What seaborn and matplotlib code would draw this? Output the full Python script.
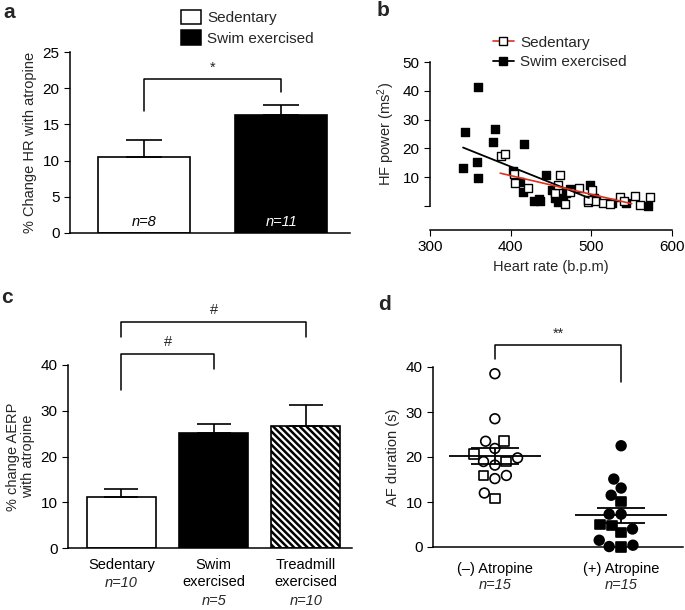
import numpy as np
import pandas as pd
import seaborn as sns
import matplotlib.pyplot as plt
from matplotlib.lines import Line2D
from matplotlib.patches import Patch
from matplotlib.markers import MarkerStyle

sns.set_style("ticks")
plt.rcParams["font.family"] = ["Liberation Sans", "DejaVu Sans"]
plt.rcParams["mathtext.fontset"] = "custom"
plt.rcParams["mathtext.rm"] = "Liberation Sans"
plt.rcParams["mathtext.it"] = "Liberation Sans:italic"
plt.rcParams["axes.linewidth"] = 1.1
plt.rcParams["hatch.linewidth"] = 1.8
plt.rcParams["xtick.color"] = "black"
plt.rcParams["ytick.color"] = "black"
plt.rcParams["axes.edgecolor"] = "black"

# --- a: HR change with atropine
a_groups = ["Sedentary", "Swim exercised"]
a_mean = [10.5, 16.3]
a_sem = [2.3, 1.4]
a_n = ["n=8", "n=11"]

# --- b: HF power vs heart rate
sed_hr = [388, 393, 404, 405, 422, 455, 461, 459, 467, 473, 485, 496, 501,
          515, 523, 535, 541, 554, 560, 573, 504, 496]
sed_hf = [17.4, 18.1, 11.0, 7.9, 6.4, 4.5, 10.8, 7.3, 0.7, 5.0, 6.2, 1.4, 5.6,
          1.2, 0.8, 3.1, 1.8, 3.3, 0.2, 3.1, 1.7, 2.2]
swim_hr = [360, 343, 341, 358, 360, 380, 378, 416, 403, 411, 415, 429, 435,
           436, 444, 451, 455, 459, 465, 469, 473, 498, 503, 506, 525, 543, 570]
swim_hf = [41.4, 25.6, 13.1, 15.2, 9.6, 26.8, 22.2, 21.4, 12.2, 8.2, 4.8, 1.6, 2.4,
           1.7, 10.6, 5.6, 2.7, 1.4, 2.7, 4.5, 5.8, 7.3, 2.9, 2.2, 1.2, 1.0, 0.1]
sed_fit_hr = [387, 550]
sed_fit_hf = [11.4, 0.8]
swim_fit_hr = [341, 497]
swim_fit_hf = [20.3, 2.8]

# --- c: AERP change with atropine
c_groups = ["Sedentary", "Swim\nexercised", "Treadmill\nexercised"]
c_mean = [11.2, 25.1, 26.7]
c_sem = [1.6, 2.1, 4.6]
c_n = ["n=10", "n=5", "n=10"]

# --- d: AF duration
d_groups = ["(\u2013) Atropine", "(+) Atropine"]
d_minus = [38.5, 28.5, 21.9, 23.5, 19.8, 18.2, 19.0, 15.2, 15.9, 12.0,
           23.6, 20.6, 19.0, 15.9, 10.8]
d_plus = [22.5, 15.1, 13.1, 11.5, 7.3, 7.3, 4.0, 0.4, 0.1, 1.5,
          10.1, 4.8, 5.0, 3.2, 0.0]
d_minus_shape = ["circle"] * 10 + ["square"] * 5
d_plus_shape = ["circle"] * 10 + ["square"] * 5
d_n = ["n=15", "n=15"]

FS = 10.5
TS = 11
W, H = 685, 610


def bracket(ax, x1, x2, y1, ytop, y2, label):
    ax.plot([x1, x1, x2, x2], [y1, ytop, ytop, y2], color="black", lw=1.1,
            clip_on=False)
    ax.annotate(label, xy=((x1 + x2) / 2, ytop), xytext=(0, 3),
                textcoords="offset points", ha="center", va="bottom",
                fontsize=FS, annotation_clip=False)


def n_labels(ax, groups, labels, first, step):
    # italic n= line under each category name
    for i, (g, lab) in enumerate(zip(groups, labels)):
        lines = g.count("\n") + 1
        ax.annotate(lab, xy=(i, 0), xycoords=("data", "axes fraction"),
                    xytext=(0, -(first + lines * step)), textcoords="offset points",
                    ha="center", va="center", fontsize=FS, style="italic")


fig = plt.figure(figsize=(6.85, 6.1), dpi=100)
ax_a = fig.add_axes([70 / W, 1 - 233 / H, 280 / W, 181 / H])
ax_b = fig.add_axes([430 / W, 1 - 206 / H, 242 / W, 144 / H])
ax_c = fig.add_axes([68 / W, 1 - 548 / H, 284 / W, 183 / H])
ax_d = fig.add_axes([433 / W, 1 - 547 / H, 250 / W, 180 / H])

# ---------------- a
sns.barplot(x=a_groups, y=a_mean, hue=a_groups, palette=["white", "black"],
            edgecolor="black", linewidth=1.2, width=0.67, legend=False, ax=ax_a)
ax_a.errorbar(range(2), a_mean, yerr=[np.zeros(2), a_sem], fmt="none",
              ecolor="black", elinewidth=1.2, capsize=13, capthick=1.2)
for i, lab in enumerate(a_n):
    ax_a.text(i, 1.5, lab, ha="center", va="center", fontsize=FS, style="italic",
              color="black" if i == 0 else "white")
ax_a.set_xlim(-0.54, 1.5)
ax_a.set_ylim(0, 25)
ax_a.set_yticks(range(0, 26, 5))
ax_a.set_xticks([])
ax_a.tick_params(axis="y", labelsize=TS, length=4)
ax_a.set_ylabel("% Change HR with atropine", fontsize=FS)
sns.despine(ax=ax_a)
bracket(ax_a, 0, 1, 16.8, 21.3, 19.5, "*")
ax_a.legend(handles=[Patch(facecolor="white", edgecolor="black", lw=1.1),
                     Patch(facecolor="black", edgecolor="black", lw=1.1)],
            labels=a_groups, loc="upper left", bbox_to_anchor=(170 / W, 1 + 1 / H),
            bbox_transform=fig.transFigure, frameon=False, fontsize=11,
            handlelength=1.3, handleheight=1.05, handletextpad=0.45,
            labelspacing=0.35, borderpad=0.2)

# ---------------- b
sns.scatterplot(x=swim_hr, y=swim_hf, marker="s", color="black", edgecolor="black",
                s=34, linewidth=1, ax=ax_b, clip_on=False, zorder=3)
sns.scatterplot(x=sed_hr, y=sed_hf, marker="s", color="white", edgecolor="black",
                s=34, linewidth=1, ax=ax_b, clip_on=False, zorder=3)
sns.lineplot(x=swim_fit_hr, y=swim_fit_hf, color="black", lw=1.3, ax=ax_b, zorder=4)
sns.lineplot(x=sed_fit_hr, y=sed_fit_hf, color="#e0301e", lw=1.2, ax=ax_b, zorder=4)
ax_b.set_xlim(300, 600)
ax_b.set_ylim(0, 50)
ax_b.set_xticks([300, 400, 500, 600])
ax_b.set_yticks(range(0, 51, 10))
ax_b.set_yticklabels([""] + [str(v) for v in range(10, 51, 10)])
ax_b.tick_params(labelsize=TS, length=4)
sns.despine(ax=ax_b)
ax_b.spines["bottom"].set_position(("outward", 17))
ax_b.set_xlabel("Heart rate (b.p.m)", fontsize=FS)
ax_b.set_ylabel("HF power (ms$^2$)", fontsize=FS)
ax_b.legend(handles=[Line2D([], [], color="#e0301e", lw=1.2, marker="s", ms=6,
                            mfc="white", mec="black", mew=1),
                     Line2D([], [], color="black", lw=1.3, marker="s", ms=6,
                            mfc="black", mec="black")],
            labels=["Sedentary", "Swim exercised"], loc="upper left",
            bbox_to_anchor=(482 / W, 1 - 25 / H), bbox_transform=fig.transFigure,
            frameon=False, fontsize=11, handlelength=1.4, handletextpad=0.4,
            labelspacing=0.38, borderpad=0.2)

# ---------------- c
sns.barplot(x=c_groups, y=c_mean, hue=c_groups, palette=["white", "black", "white"],
            edgecolor="black", linewidth=1.2, width=0.75, legend=False, ax=ax_c)
ax_c.patches[2].set_hatch("\\" * 5)
ax_c.errorbar(range(3), c_mean, yerr=[np.zeros(3), c_sem], fmt="none",
              ecolor="black", elinewidth=1.2, capsize=12, capthick=1.2)
ax_c.set_xlim(-0.58, 2.5)
ax_c.set_ylim(0, 40)
ax_c.set_yticks(range(0, 41, 10))
ax_c.set_xticks(range(3))
ax_c.set_xticklabels(c_groups, fontsize=FS, linespacing=1.2)
ax_c.tick_params(axis="x", length=0, pad=7.5)
ax_c.tick_params(axis="y", labelsize=TS, length=4)
ax_c.set_ylabel("% change AERP\nwith atropine", fontsize=FS, linespacing=1.1)
ax_c.set_xlabel("")
sns.despine(ax=ax_c)
n_labels(ax_c, c_groups, c_n, first=12.2, step=13)
bracket(ax_c, 0, 1, 34.5, 42.5, 39.1, "#")
bracket(ax_c, 0, 2, 46.2, 49.5, 46.2, "#")

# ---------------- d
d_df = pd.DataFrame({
    "group": [d_groups[0]] * len(d_minus) + [d_groups[1]] * len(d_plus),
    "af": d_minus + d_plus,
    "shape": d_minus_shape + d_plus_shape,
})
sns.swarmplot(data=d_df, x="group", y="af", hue="group", palette=["white", "black"],
              size=7, edgecolor="black", linewidth=1.2, legend=False, ax=ax_d,
              clip_on=False)
circ = MarkerStyle("o")
sq = MarkerStyle("s")
circ_path = circ.get_path().transformed(circ.get_transform())
sq_path = sq.get_path().transformed(sq.get_transform())
for coll, shapes in zip(ax_d.collections, [d_minus_shape, d_plus_shape]):
    coll.set_paths([circ_path if s == "circle" else sq_path for s in shapes])

# mean +/- SEM
for i, vals in enumerate([d_minus, d_plus]):
    v = np.asarray(vals)
    m = v.mean()
    se = v.std(ddof=1) / np.sqrt(len(v))
    ax_d.hlines(m, i - 0.365, i + 0.365, color="black", lw=1.3, zorder=5)
    ax_d.hlines([m - se, m + se], i - 0.19, i + 0.19, color="black", lw=1.3, zorder=5)
    ax_d.vlines(i, m - se, m + se, color="black", lw=1.3, zorder=5)

ax_d.set_xlim(-0.49, 1.49)
ax_d.set_ylim(0, 40)
ax_d.set_yticks(range(0, 41, 10))
ax_d.tick_params(axis="x", length=0, pad=10.5, labelsize=FS)
ax_d.tick_params(axis="y", labelsize=TS, length=4)
ax_d.set_xlabel("")
ax_d.set_ylabel("AF duration (s)", fontsize=FS)
sns.despine(ax=ax_d)
n_labels(ax_d, d_groups, d_n, first=15, step=12.5)
bracket(ax_d, 0, 1, 41.8, 45.0, 36.7, "**")

# panel letters
for lab, x, y in [("a", 3, 12), ("b", 377, 10), ("c", 1, 298), ("d", 378, 304)]:
    fig.text(x / W, 1 - y / H, lab, fontsize=15, fontweight="bold", va="center")

fig.savefig("out.png", dpi=100)
